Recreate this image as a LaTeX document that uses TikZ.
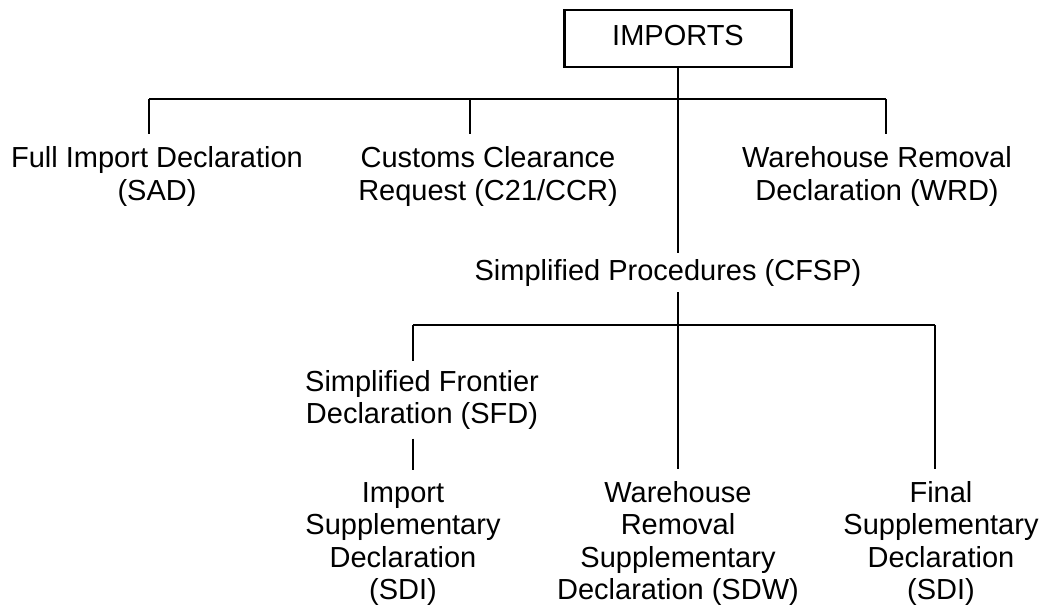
\documentclass[tikz,border=0pt]{standalone}
\usepackage{fontspec}
\setmainfont{Liberation Sans}
\usepackage{tikz}
\usetikzlibrary{positioning,calc}

\tikzset{
	link/.style={line width=2.3pt},
	lbl/.style={align=center, anchor=base, inner xsep=0pt, inner ysep=12pt},
	topbox/.style={draw, line width=2.3pt, minimum width=227pt, minimum height=57pt, text depth=7pt}
}

\begin{document}
\begin{tikzpicture}[x=1pt,y=-1pt,font=\fontsize{29pt}{32.5pt}\selectfont]
			\useasboundingbox (0,0) rectangle (1046,608);
			\node[topbox] (imports) at (678,38.5) {IMPORTS};
			\node[lbl] (sad) at (157,200) {Full Import Declaration\\(SAD)};
			\node[lbl] (ccr) at (488,200) {Customs Clearance\\Request (C21/CCR)};
			\node[lbl] (wrd) at (877,200) {Warehouse Removal\\Declaration (WRD)};
			\node[lbl, inner ysep=6pt] (cfsp) at (668,280) {Simplified Procedures (CFSP)};
			\node[lbl, inner ysep=9pt] (sfd) at (422,423.5) {Simplified Frontier\\Declaration (SFD)};
			\node[lbl] (sdi) at (403,599.5) {Import\\Supplementary\\Declaration\\(SDI)};
			\node[lbl] (sdw) at (678,599.5) {Warehouse\\Removal\\Supplementary\\Declaration (SDW)};
			\node[lbl] (fsd) at (941,599.5) {Final\\Supplementary\\Declaration\\(SDI)};
			\path (149,99) coordinate (sadtop);
			\path (470,99) coordinate (ccrtop);
			\path (886,99) coordinate (wrdtop);
			\path (413,325) coordinate (sfdtop);
			\path (678,325) coordinate (sdwtop);
			\path (935,325) coordinate (fsdtop);
			\draw[link] (sadtop) -- (wrdtop);
			\draw[link] (sfdtop) -- (fsdtop);
			\foreach \t/\n in {sadtop/sad,ccrtop/ccr,wrdtop/wrd,sfdtop/sfd,sdwtop/sdw,fsdtop/fsd}
				\draw[link] (\t) -- (\t |- \n.north);
			\draw[link] (imports.south) -- (imports.south |- cfsp.north);
			\draw[link] (imports.south |- cfsp.south) -- (sdwtop);
			\draw[link] (sfdtop |- sfd.south) -- (sfdtop |- sdi.north);
		\end{tikzpicture}
\end{document}
